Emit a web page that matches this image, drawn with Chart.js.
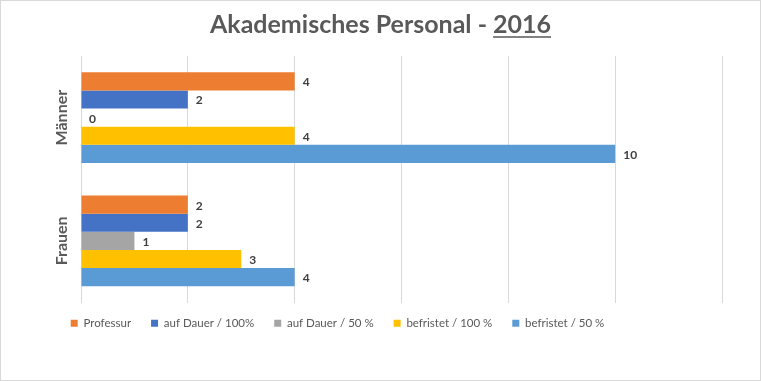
<!DOCTYPE html>
<html>
<head>
<meta charset="utf-8">
<script src="https://cdn.jsdelivr.net/npm/chart.js@4/dist/chart.umd.min.js"></script>
<style>
  html, body { margin: 0; padding: 0; background: #fff; }
  #wrap { width: 761px; height: 381px; border: 1px solid #d9d9d9; box-sizing: border-box; }
</style>
</head>
<body>
<div id="wrap"><canvas id="chart" width="759" height="379"></canvas></div>
<script>
const kategorien = ['Männer', 'Frauen'];
const professur = [4, 2];
const aufDauer100 = [2, 2];
const aufDauer50 = [0, 1];
const befristet100 = [4, 3];
const befristet50 = [10, 4];
const titelText = 'Akademisches Personal - 2016';
const titelJahr = '2016';

const schrift = 'Lato, "Open Sans", sans-serif';
const titelGroesse = 25;

// Werte rechts neben die Balken schreiben
const wertePlugin = {
  id: 'werte',
  afterDatasetsDraw(chart) {
    const ctx = chart.ctx;
    ctx.save();
    ctx.font = 'bold 12px ' + schrift;
    ctx.fillStyle = '#404040';
    ctx.textBaseline = 'middle';
    ctx.textAlign = 'left';
    chart.data.datasets.forEach((ds, i) => {
      chart.getDatasetMeta(i).data.forEach((bar, j) => {
        ctx.fillText(String(ds.data[j]), bar.x + 8, bar.y + 1);
      });
    });
    ctx.restore();
  }
};

// Kategorien senkrecht links neben die Achse
const kategorienPlugin = {
  id: 'kategorien',
  afterDraw(chart) {
    const ctx = chart.ctx;
    const y = chart.scales.y;
    ctx.save();
    ctx.font = 'bold 16px ' + schrift;
    ctx.fillStyle = '#595959';
    ctx.textAlign = 'center';
    ctx.textBaseline = 'middle';
    kategorien.forEach((k, i) => {
      ctx.save();
      ctx.translate(61, y.getPixelForTick(i));
      ctx.rotate(-Math.PI / 2);
      ctx.fillText(k, 0, 0);
      ctx.restore();
    });
    ctx.restore();
  }
};

// "2016" im Titel unterstreichen
const unterstrichPlugin = {
  id: 'unterstrich',
  afterDraw(chart) {
    const tb = chart.titleBlock;
    if (!tb) return;
    const ctx = chart.ctx;
    ctx.save();
    ctx.font = 'bold ' + titelGroesse + 'px ' + schrift;
    const ganz = ctx.measureText(titelText).width;
    const jahr = ctx.measureText(titelJahr).width;
    const mitte = (tb.left + tb.right) / 2;
    const x1 = mitte + ganz / 2 - jahr;
    const y = tb.top + 9 + titelGroesse * 1.2 / 2 + 12;
    ctx.strokeStyle = '#595959';
    ctx.lineWidth = 1.5;
    ctx.beginPath();
    ctx.moveTo(x1, y);
    ctx.lineTo(x1 + jahr, y);
    ctx.stroke();
    ctx.restore();
  }
};

// Titel und Legende verschieben wie im Original
const versatzPlugin = {
  id: 'versatz',
  afterLayout(chart) {
    if (chart.titleBlock) {
      chart.titleBlock.left += 19;
      chart.titleBlock.right += 19;
    }
    if (chart.legend) {
      chart.legend.left -= 24;
      chart.legend.right -= 24;
      chart.legend.top -= 5;
      chart.legend.bottom -= 5;
    }
  }
};

new Chart(document.getElementById('chart'), {
  type: 'bar',
  data: {
    labels: kategorien,
    datasets: [
      { label: 'Professur', data: professur, backgroundColor: '#ed7d31' },
      { label: 'auf Dauer / 100%', data: aufDauer100, backgroundColor: '#4472c4' },
      { label: 'auf Dauer / 50 %', data: aufDauer50, backgroundColor: '#a5a5a5' },
      { label: 'befristet / 100 %', data: befristet100, backgroundColor: '#ffc000' },
      { label: 'befristet / 50 %', data: befristet50, backgroundColor: '#5b9bd5' }
    ]
  },
  options: {
    indexAxis: 'y',
    responsive: false,
    animation: false,
    layout: { padding: { left: 0, right: 38, bottom: 36 } },
    datasets: { bar: { categoryPercentage: 0.735, barPercentage: 1 } },
    plugins: {
      title: {
        display: true,
        text: titelText,
        color: '#595959',
        font: { family: schrift, size: titelGroesse, weight: 'bold' },
        padding: { top: 9, bottom: 16 }
      },
      legend: {
        position: 'bottom',
        labels: {
          color: '#595959',
          boxWidth: 7,
          boxHeight: 7,
          padding: 20,
          font: { family: schrift, size: 11.5 }
        }
      },
      tooltip: { enabled: false }
    },
    scales: {
      x: {
        min: 0,
        max: 12,
        ticks: { stepSize: 2, display: false },
        grid: { color: '#d9d9d9', drawTicks: false },
        border: { display: false }
      },
      y: {
        ticks: { display: false },
        grid: { display: false },
        border: { display: false },
        afterFit(scale) { scale.width = 80; }
      }
    }
  },
  plugins: [wertePlugin, kategorienPlugin, unterstrichPlugin, versatzPlugin]
});
</script>
</body>
</html>
